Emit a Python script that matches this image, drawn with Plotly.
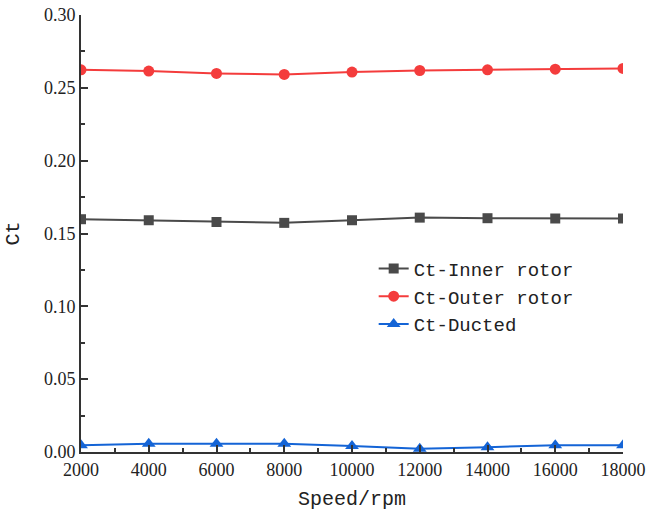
import plotly.graph_objects as go

speed = [2000, 4000, 6000, 8000, 10000, 12000, 14000, 16000, 18000]
ct_inner = [0.1598, 0.1591, 0.1579, 0.1573, 0.1591, 0.1609, 0.1605, 0.1603, 0.1603]
ct_outer = [0.2624, 0.2615, 0.2599, 0.2592, 0.2608, 0.2619, 0.2624, 0.2628, 0.2633]
ct_ducted = [0.0047, 0.0056, 0.0056, 0.0056, 0.0042, 0.0022, 0.0033, 0.0047, 0.0047]

series = [
    ("Ct-Inner rotor", ct_inner, "#4a4a4a", "square", 10),
    ("Ct-Outer rotor", ct_outer, "#f43c3c", "circle", 11),
    ("Ct-Ducted", ct_ducted, "#1464d6", "triangle-up", 12),
]

fig = go.Figure()
for name, vals, color, sym, msize in series:
    fig.add_trace(go.Scatter(
        x=speed, y=vals, name=name, mode="lines+markers",
        line=dict(color=color, width=2),
        marker=dict(symbol=sym, size=msize, color=color),
    ))

axis_col = "#333333"
tickfont = dict(family="Liberation Serif", size=18, color="#222222")
titlefont = dict(family="Liberation Mono", size=20, color="#222222")

fig.update_layout(
    width=648, height=517,
    margin=dict(l=81, r=25, t=15, b=65, autoexpand=False),
    paper_bgcolor="white", plot_bgcolor="white",
    showlegend=True,
    legend=dict(
        x=0.54, y=0.463, xanchor="left", yanchor="top",
        font=dict(family="Liberation Mono", size=19, color="#222222"),
        bgcolor="rgba(0,0,0,0)", tracegroupgap=0,
    ),
    xaxis=dict(
        range=[2000, 18000], tickvals=speed, tickformat="d",
        showline=True, linecolor=axis_col, linewidth=2,
        ticks="inside", ticklen=7, tickwidth=1.5, tickcolor=axis_col,
        minor=dict(ticks="inside", ticklen=4, dtick=1000, tickcolor=axis_col, tickwidth=1.5),
        showgrid=False, zeroline=False, mirror=False, automargin=False,
        tickfont=tickfont,
        title=dict(text="Speed/rpm", font=titlefont, standoff=12),
    ),
    yaxis=dict(
        range=[0, 0.30], dtick=0.05, tickformat=".2f",
        showline=True, linecolor=axis_col, linewidth=2,
        ticks="inside", ticklen=7, tickwidth=1.5, tickcolor=axis_col,
        minor=dict(ticks="inside", ticklen=4, dtick=0.025, tickcolor=axis_col, tickwidth=1.5),
        showgrid=False, zeroline=False, mirror=False, automargin=False,
        tickfont=tickfont,
        title=dict(text="Ct", font=titlefont, standoff=19),
    ),
)

fig.write_html("out.html", config={"displayModeBar": False},
               post_script="document.body.style.margin='0';")
